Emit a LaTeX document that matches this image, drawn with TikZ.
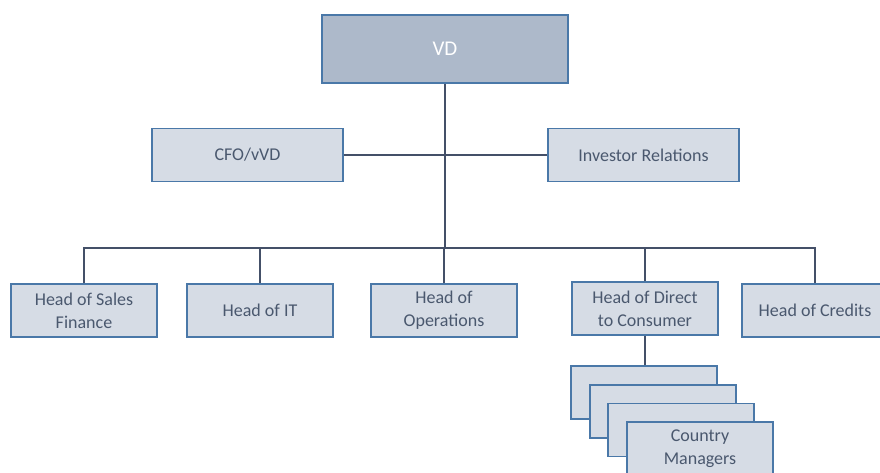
\documentclass[tikz,border=0pt]{standalone}
\usepackage{fontspec}
\setmainfont{Carlito}
\begin{document}
\begin{tikzpicture}[x=1pt,y=-1pt,
  box/.style={draw=boxline, line width=1.6pt, fill=boxfill, minimum width=146pt, minimum height=53pt,
    text=txt, font=\fontsize{18}{23}\selectfont, align=center, inner sep=2pt},
  link/.style={draw=wire, line width=2pt}]
\definecolor{boxline}{HTML}{4A78A8}
\definecolor{boxfill}{HTML}{D6DCE5}
\definecolor{topfill}{HTML}{ADB9CA}
\definecolor{wire}{HTML}{445068}
\definecolor{txt}{HTML}{4A586E}
\useasboundingbox (0,0) rectangle (880,472);
\clip (0,0) rectangle (880,472);
% top level
\node[box, fill=topfill, text=white, font=\fontsize{21}{25}\selectfont,
  minimum width=246pt, minimum height=68pt] (vd) at (445,49) {VD};
\node[box, minimum width=191pt] (cfo) at (247.5,155) {CFO/vVD};
\node[box, minimum width=191pt] (ir) at (643.5,155) {Investor Relations};
% department heads
\node[box] (sales) at (84,310.5) {Head of Sales\\Finance};
\node[box] (it) at (260,310.5) {Head of IT};
\node[box] (ops) at (444,310.5) {Head of\\Operations};
\node[box] (d2c) at (645,308.5) {Head of Direct\\to Consumer};
\node[box] (cred) at (815,310.5) {Head of Credits};
% stacked country managers
\node[box] (cm1) at (644,392.5) {};
\node[box] (cm2) at (663,411.5) {};
\node[box] (cm3) at (681,430) {};
\node[box] (cm4) at (700,448.5) {Country\\Managers};
% connectors
\coordinate (bus) at (445,248);
\draw[link] (vd.south) -- (bus);
\draw[link] (cfo.east) -- (ir.west);
\draw[link] (sales.north) |- (bus) -| (cred.north);
\draw[link] (it.north) -- (it.north |- bus);
\draw[link] (ops.north) -- (ops.north |- bus);
\draw[link] (d2c.north) -- (d2c.north |- bus);
\draw[link] (d2c.south) -- (cm1.north -| d2c.south);
\end{tikzpicture}
\end{document}
